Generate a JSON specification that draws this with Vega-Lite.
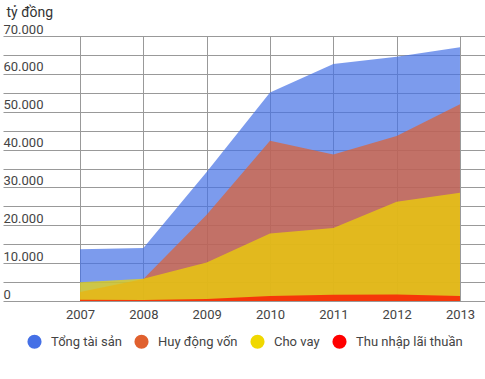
{
  "$schema": "https://vega.github.io/schema/vega-lite/v6.json",
  "width": 482,
  "height": 265,
  "autosize": "none",
  "padding": {"left": 3, "top": 36, "right": 0, "bottom": 78},
  "background": "white",
  "data": {"values": [
    {"year": 2007, "series": "Tổng tài sản", "value": 13700},
    {"year": 2008, "series": "Tổng tài sản", "value": 14000},
    {"year": 2009, "series": "Tổng tài sản", "value": 34100},
    {"year": 2010, "series": "Tổng tài sản", "value": 55100},
    {"year": 2011, "series": "Tổng tài sản", "value": 62600},
    {"year": 2012, "series": "Tổng tài sản", "value": 64500},
    {"year": 2013, "series": "Tổng tài sản", "value": 67000},
    {"year": 2007, "series": "Huy động vốn", "value": 2400},
    {"year": 2008, "series": "Huy động vốn", "value": 5800},
    {"year": 2009, "series": "Huy động vốn", "value": 22800},
    {"year": 2010, "series": "Huy động vốn", "value": 42300},
    {"year": 2011, "series": "Huy động vốn", "value": 38700},
    {"year": 2012, "series": "Huy động vốn", "value": 43600},
    {"year": 2013, "series": "Huy động vốn", "value": 52000},
    {"year": 2007, "series": "Cho vay", "value": 4950},
    {"year": 2008, "series": "Cho vay", "value": 5900},
    {"year": 2009, "series": "Cho vay", "value": 10150},
    {"year": 2010, "series": "Cho vay", "value": 17800},
    {"year": 2011, "series": "Cho vay", "value": 19300},
    {"year": 2012, "series": "Cho vay", "value": 26200},
    {"year": 2013, "series": "Cho vay", "value": 28600},
    {"year": 2007, "series": "Thu nhập lãi thuần", "value": 300},
    {"year": 2008, "series": "Thu nhập lãi thuần", "value": 250},
    {"year": 2009, "series": "Thu nhập lãi thuần", "value": 500},
    {"year": 2010, "series": "Thu nhập lãi thuần", "value": 1350},
    {"year": 2011, "series": "Thu nhập lãi thuần", "value": 1650},
    {"year": 2012, "series": "Thu nhập lãi thuần", "value": 1700},
    {"year": 2013, "series": "Thu nhập lãi thuần", "value": 1350}
  ]},
  "encoding": {
    "x": {
      "field": "year", "type": "quantitative",
      "scale": {"domain": [2005.784, 2013.395], "nice": false, "zero": false},
      "axis": {"values": [2007, 2008, 2009, 2010, 2011, 2012, 2013], "format": "d", "title": null,
        "grid": true, "gridColor": "#999", "domain": false, "ticks": false, "labelPadding": 7,
        "labelFontSize": 13, "labelColor": "#444", "labelFont": "Roboto"}
    },
    "y": {
      "field": "value", "type": "quantitative", "stack": null,
      "scale": {"domain": [0, 70000], "nice": false},
      "axis": {
        "values": [0, 5000, 10000, 15000, 20000, 25000, 30000, 35000, 40000, 45000, 50000, 55000, 60000, 65000, 70000],
        "labelExpr": "datum.value % 10000 == 0 ? replace(format(datum.value, ','), ',', '.') : ''",
        "grid": true, "gridColor": "#999", "domain": false, "ticks": false,
        "labelAlign": "left", "labelPadding": 0, "labelBaseline": "alphabetic", "labelOffset": -3,
        "labelFontSize": 13, "labelColor": "#444", "labelFont": "Roboto",
        "title": "tỷ đồng", "titleAngle": 0, "titleAlign": "left", "titleBaseline": "alphabetic",
        "titleX": 3, "titleY": -20, "titleFontWeight": "normal", "titleFontSize": 14,
        "titleColor": "#333", "titleFont": "Roboto"
      }
    },
    "color": {
      "field": "series", "type": "nominal",
      "scale": {"domain": ["Tổng tài sản", "Huy động vốn", "Cho vay", "Thu nhập lãi thuần"],
        "range": ["#4570e6", "#e0602e", "#f0d800", "#ff0000"]},
      "legend": {"title": null, "orient": "none", "direction": "horizontal", "legendX": 24, "legendY": 298,
        "symbolType": "circle", "symbolSize": 200, "symbolOpacity": 1, "symbolStrokeWidth": 0,
        "labelFontSize": 13, "labelColor": "#444", "labelFont": "Roboto", "labelOffset": 9, "columnPadding": 12}
    }
  },
  "layer": [
    {"transform": [{"filter": "datum.series == 'Tổng tài sản'"}], "mark": {"type": "area", "opacity": 0.7}},
    {"transform": [{"filter": "datum.series == 'Huy động vốn'"}], "mark": {"type": "area", "opacity": 0.7}},
    {"transform": [{"filter": "datum.series == 'Cho vay'"}], "mark": {"type": "area", "opacity": 0.7}},
    {"transform": [{"filter": "datum.series == 'Thu nhập lãi thuần'"}], "mark": {"type": "area", "opacity": 0.7}}
  ],
  "config": {"view": {"stroke": null}}
}
